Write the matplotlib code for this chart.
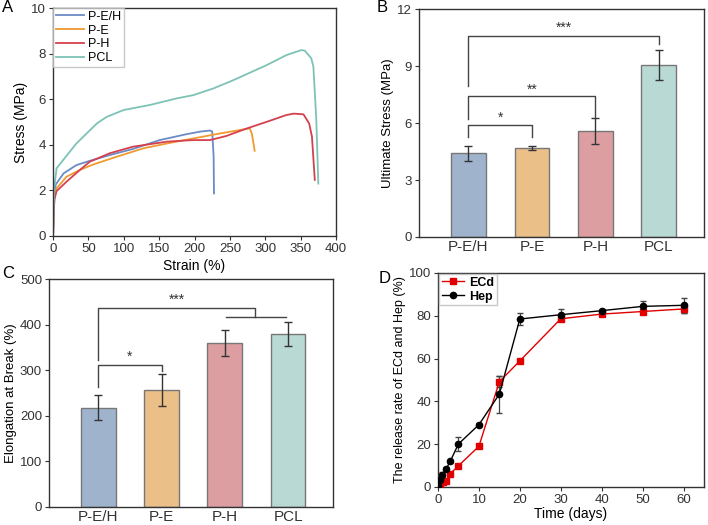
import numpy as np
import matplotlib
matplotlib.use("Agg")
import matplotlib.pyplot as plt

plt.rcParams['font.family'] = ['Liberation Sans', 'DejaVu Sans']
plt.rcParams['axes.linewidth'] = 1.0
plt.rcParams['axes.edgecolor'] = '#333333'
plt.rcParams['xtick.color'] = '#333333'
plt.rcParams['ytick.color'] = '#333333'

# ---- Panel A: stress-strain curves ----
peh_strain = [0, 1, 2, 4, 15, 33, 52, 80, 113, 151, 189, 208, 222, 225, 227, 227.5]
peh_stress = [0, 1.2, 1.9, 2.27, 2.75, 3.11, 3.3, 3.55, 3.82, 4.21, 4.47, 4.58, 4.63, 4.58, 3.5, 1.87]
pe_strain = [0, 1, 2, 5, 19, 38, 57, 90, 128, 161, 198, 236, 264, 278, 281, 285]
pe_stress = [0, 1.1, 1.7, 2.09, 2.6, 2.9, 3.14, 3.48, 3.85, 4.06, 4.28, 4.5, 4.65, 4.72, 4.5, 3.74]
ph_strain = [0, 1, 2, 5, 19, 38, 52, 80, 113, 161, 198, 222, 245, 274, 302, 330, 340, 354, 362, 366, 370]
ph_stress = [0, 1.0, 1.6, 1.97, 2.38, 2.9, 3.26, 3.63, 3.92, 4.14, 4.21, 4.21, 4.39, 4.72, 5.01, 5.31, 5.37, 5.34, 4.94, 4.36, 2.46]
pcl_strain = [0, 1, 2, 5, 15, 33, 62, 76, 100, 137, 175, 198, 227, 255, 302, 330, 351, 356, 365, 368, 372, 375]
pcl_stress = [0, 1.4, 2.2, 2.97, 3.36, 4.06, 4.94, 5.23, 5.53, 5.75, 6.04, 6.18, 6.48, 6.84, 7.5, 7.94, 8.16, 8.13, 7.8, 7.43, 5.2, 2.3]

# ---- Panels B, C: bars ----
groups = ['P-E/H', 'P-E', 'P-H', 'PCL']
ult_stress = [4.4, 4.7, 5.57, 9.05]
ult_stress_err = [0.4, 0.11, 0.68, 0.79]
elong = [218, 257, 360, 380]
elong_err = [28, 35, 28, 26]

# ---- Panel D: release curves ----
days_ecd = [0, 0.5, 1.2, 2, 3, 5, 10, 15, 20, 30, 40, 50, 60]
ecd = [0, 1.0, 2.2, 2.6, 6.2, 9.9, 19, 49.2, 58.9, 78.6, 80.8, 82, 83.2]
ecd_err = [0, 0.3, 0.4, 0.4, 0.5, 0.6, 0.8, 2.5, 0.8, 1.0, 0.8, 1.2, 2.0]
days_hep = [0, 0.4, 1.1, 2, 3, 5, 10, 15, 20, 30, 40, 50, 60]
hep = [0.5, 3.4, 5.7, 8.4, 12, 20.1, 29.1, 43.4, 78.5, 80.5, 82.4, 84.4, 84.9]
hep_err = [0.3, 1.5, 1.5, 0.8, 0.8, 3.4, 0.6, 8.6, 2.7, 2.5, 1.0, 2.3, 3.5]

line_colors = ['#6a8bc6', '#f09a30', '#d6404e', '#7cc3b6']
bar_colors = ['#a0b3cd', '#ebbf88', '#dc9ea1', '#b9d9d4']

fig = plt.figure(figsize=(7.08, 5.25), dpi=100)

axA = fig.add_axes([0.0749, 0.5505, 0.3997, 0.434])
axB = fig.add_axes([0.5918, 0.5486, 0.4025, 0.434])
axC = fig.add_axes([0.0692, 0.0343, 0.4011, 0.434])
axD = fig.add_axes([0.6186, 0.0724, 0.3757, 0.4076])

# A
for xs, ys, c, lab in zip([peh_strain, pe_strain, ph_strain, pcl_strain],
                          [peh_stress, pe_stress, ph_stress, pcl_stress],
                          line_colors, groups):
    axA.plot(xs, ys, color=c, lw=1.3, label=lab)
axA.set_xlim(0, 400)
axA.set_ylim(0, 10)
axA.set_xticks(range(0, 401, 50))
axA.set_yticks(range(0, 11, 2))
axA.set_xlabel('Strain (%)', fontsize=10, labelpad=3)
axA.set_ylabel('Stress (MPa)', fontsize=10, labelpad=2)
axA.tick_params(labelsize=9.5, length=3, pad=2)
axA.legend(loc='upper left', fontsize=9, frameon=True, fancybox=False,
           edgecolor='#bbbbbb', borderaxespad=0.0, handlelength=2.3,
           borderpad=0.2, labelspacing=0.15, handletextpad=0.3)

# bar helper
def bars(ax, vals, errs, ylim, yticks, ylabel):
    x = np.arange(1, 5)
    ax.bar(x, vals, width=0.55, color=bar_colors, edgecolor='#777777', lw=1.0)
    ax.errorbar(x, vals, yerr=errs, fmt='none', ecolor='#333333', elinewidth=1.0,
                capsize=3, capthick=1.0)
    ax.set_xlim(0.22, 4.71)
    ax.set_ylim(*ylim)
    ax.set_yticks(yticks)
    ax.set_xticks(x)
    ax.set_xticklabels(groups, fontsize=11)
    ax.tick_params(axis='x', length=0, pad=2)
    ax.tick_params(axis='y', labelsize=9.5, length=3, pad=2)
    ax.set_ylabel(ylabel, fontsize=9.5, labelpad=2)
    return x

def bracket(ax, x1, x2, y, y1, y2, txt, ty):
    ax.plot([x1, x1, x2, x2], [y1, y, y, y2], color='#444444', lw=1.0)
    ax.text((x1 + x2) / 2, ty, txt, ha='center', va='center', fontsize=10, color='#333333')

# B
bars(axB, ult_stress, ult_stress_err, (0, 12), [0, 3, 6, 9, 12], 'Ultimate Stress (MPa)')
bracket(axB, 1, 2, 5.9, 5.27, 5.27, '*', 6.3)
bracket(axB, 1, 3, 7.42, 6.24, 6.3, '**', 7.75)
bracket(axB, 1, 4, 10.58, 7.94, 10.19, '***', 11.0)

# C
bars(axC, elong, elong_err, (0, 500), range(0, 501, 100), 'Elongation at Break (%)')
bracket(axC, 1, 2, 312, 263, 299, '*', 330)
axC.plot([1, 1, 3.47, 3.47], [322, 435.7, 435.7, 416.7], color='#444444', lw=1.0)
axC.plot([3.02, 3.97], [416.7, 416.7], color='#444444', lw=1.0)
axC.text(2.25, 455, '***', ha='center', va='center', fontsize=10, color='#333333')

# D
axD.errorbar(days_ecd, ecd, yerr=ecd_err, fmt='none', ecolor='#444444',
             elinewidth=0.9, capsize=2.5, zorder=2)
axD.errorbar(days_hep, hep, yerr=hep_err, fmt='none', ecolor='#444444',
             elinewidth=0.9, capsize=2.5, zorder=2)
axD.plot(days_ecd, ecd, color='#e00000', marker='s', ms=4.2, lw=1.0, label='ECd', zorder=3)
axD.plot(days_hep, hep, color='black', marker='o', ms=4.5, lw=1.0, label='Hep', zorder=4)
axD.set_xlim(0, 65)
axD.set_ylim(0, 100)
axD.set_xticks(range(0, 61, 10))
axD.set_yticks(range(0, 101, 20))
axD.set_xlabel('Time (days)', fontsize=10, labelpad=1)
axD.set_ylabel('The release rate of ECd and Hep (%)', fontsize=9, labelpad=2)
axD.tick_params(labelsize=9.5, length=3, pad=2)
leg = axD.legend(loc='upper left', fontsize=9, frameon=True, fancybox=False,
                 edgecolor='#bbbbbb', borderaxespad=0.1, handlelength=1.8,
                 borderpad=0.2, labelspacing=0.15, handletextpad=0.4)
for t in leg.get_texts():
    t.set_fontweight('bold')

# panel letters
for lab, (x, y) in zip('ABCD', [(0.003, 0.985), (0.532, 0.985), (0.003, 0.48), (0.535, 0.47)]):
    fig.text(x, y, lab, fontsize=12, ha='left', va='center')

fig.savefig('out.png', dpi=100)
